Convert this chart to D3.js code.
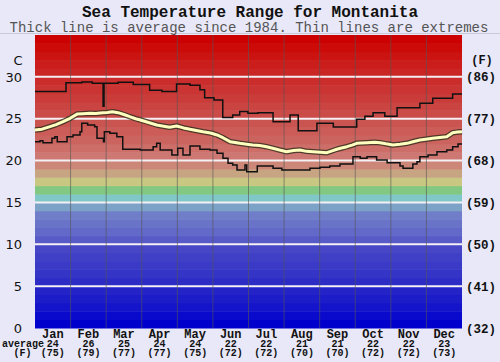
<!DOCTYPE html>
<html><head><meta charset="utf-8">
<script src="https://cdn.jsdelivr.net/npm/d3@7"></script>
<style>
html,body{margin:0;padding:0;background:#e8e8f8;}
svg{display:block;}
</style></head>
<body>
<script>
// ---- data ----
const months = ["Jan","Feb","Mar","Apr","May","Jun","Jul","Aug","Sep","Oct","Nov","Dec"];
const monthAvgC = ["24","26","25","24","24","22","22","21","21","22","22","23"];
const monthAvgF = ["(75)","(79)","(77)","(77)","(75)","(72)","(72)","(70)","(70)","(72)","(72)","(73)"];
const cTicks = [0,5,10,15,20,25,30];
const fLabels = ["(32)","(41)","(50)","(59)","(68)","(77)","(86)"];

// [day of year, °C]
const maxLine = [[0,28.25],[26.5,29.3],[40,29.4],[49,29.25],[58.2,26.5],[59,29.25],[71,29.35],[84,29.1],
 [98,28.4],[108.5,28.25],[121,29.15],[132.5,29.0],[141,28.45],[145,27.5],[153,27.25],[160.5,25.15],
 [169,25.45],[175,25.85],[182,25.65],[190.5,25.7],[203.5,24.65],[218,25.45],[225,23.55],[241,24.45],
 [255,24.0],[275,24.95],[282,25.3],[289,25.7],[299,25.3],[309.5,26.3],[329,26.85],[340,27.45],[357,27.95],[365,27.95]];

const avgLine = [[0,23.65],[6,23.75],[12.8,24.05],[18,24.3],[24,24.65],[30,25.05],[36,25.55],[41,25.6],[47,25.65],
 [52,25.62],[58,25.72],[62,25.75],[66,25.84],[71,25.72],[76,25.5],[81,25.24],[86,25.0],[90,24.85],[97,24.55],
 [104,24.25],[110,24.1],[115,23.98],[121,24.13],[127,23.9],[132.5,23.74],[138,23.6],[143.6,23.45],[150,23.3],
 [155.6,23.06],[161,22.7],[166.7,22.26],[171,22.15],[175,22.06],[181,21.95],[186,21.86],[192,21.8],[198,21.66],
 [204,21.45],[209,21.26],[215,21.06],[221,21.2],[226.5,21.26],[232,21.1],[237.6,21.06],[244,21.0],[249.6,20.94],
 [254,21.15],[258,21.35],[262,21.5],[266.7,21.66],[271,21.85],[275,22.06],[279,22.1],[283.8,22.14],[290,22.2],
 [295,22.14],[300,22.0],[306,21.86],[312,21.95],[318,22.06],[323,22.25],[329,22.46],[334,22.55],[340,22.66],
 [346,22.75],[352,22.85],[357,23.33],[361,23.4],[365,23.45]];

const minLine = [[0,22.26],[4.3,22.38],[6.8,22.14],[14.5,22.66],[17,22.85],[19,22.26],[27.4,22.85],[32.5,23.06],
 [38.5,23.45],[40,24.45],[45,24.25],[51,24.05],[53,22.66],[58.5,22.26],[59.3,23.45],[64,23.26],[70,22.85],
 [75,21.35],[90,21.26],[101,21.66],[104,22.06],[107,21.26],[115,21.26],[117,20.66],[122,21.46],[126.5,20.66],
 [132.5,21.74],[141,21.35],[149.6,21.26],[155.6,20.87],[160.7,20.27],[165,19.67],[169,19.47],[172.7,18.87],
 [179.5,19.47],[181,18.67],[190,19.35],[203.5,19.08],[211,18.87],[229,18.87],[235,19.08],[243.6,19.2],
 [252,19.35],[260.7,19.59],[271.8,20.46],[278,20.27],[283.8,20.46],[292,20.07],[301,19.75],[312,19.35],
 [314.6,19.08],[323,19.59],[326.5,19.87],[329,20.46],[336,20.67],[343.6,21.06],[352,21.26],[357,21.66],
 [361.6,21.98],[365,21.98]];

// ---- style: band colours per °C (0..35) ----
const bandColors = [
 "rgb(0,0,205)","rgb(10,10,205)","rgb(20,20,203)","rgb(28,28,200)","rgb(35,35,200)",
 "rgb(45,45,198)","rgb(52,52,198)","rgb(58,58,198)","rgb(64,64,198)","rgb(70,70,198)",
 "rgb(88,90,200)","rgb(98,105,200)","rgb(105,115,200)","rgb(112,125,200)","rgb(125,162,200)",
 "rgb(128,200,200)","rgb(130,200,130)","rgb(200,200,130)","rgb(200,165,130)","rgb(205,135,120)",
 "rgb(205,120,115)","rgb(205,110,105)","rgb(203,100,95)","rgb(203,92,88)","rgb(202,85,80)",
 "rgb(202,75,72)","rgb(202,68,65)","rgb(202,60,58)","rgb(202,52,50)","rgb(202,45,43)",
 "rgb(202,38,36)","rgb(203,30,28)","rgb(203,20,18)","rgb(204,10,8)","rgb(204,0,0)"];

const W=500,H=362;
const L=35,R=462,T=35,B=328;
const svg=d3.select("body").append("svg").attr("width",W).attr("height",H);
svg.append("rect").attr("width",W).attr("height",H).attr("fill","#e8e8f8");
svg.append("line").attr("x1",0).attr("x2",W).attr("y1",33.5).attr("y2",33.5).attr("stroke","#c8c8d8").attr("stroke-width",1);

const x=d3.scaleLinear().domain([0,365]).range([L,R]);
const y=d3.scaleLinear().domain([0,35]).range([B,T]);
const xm=d3.scaleBand().domain(months).range([L,R]);

// bands
svg.append("g").selectAll("rect").data(bandColors).join("rect")
 .attr("x",L).attr("width",R-L)
 .attr("y",(d,i)=>y(i+1)).attr("height",(d,i)=>y(i)-y(i+1)+0.5)
 .attr("fill",d=>d);

// white grid lines
svg.append("g").selectAll("line").data(cTicks.filter(d=>d>0)).join("line")
 .attr("x1",L).attr("x2",R).attr("y1",d=>y(d)).attr("y2",d=>y(d))
 .attr("stroke","#f4f0f4").attr("stroke-width",2);

// month separators
svg.append("g").selectAll("line").data(months.slice(1)).join("line")
 .attr("x1",d=>xm(d)).attr("x2",d=>xm(d)).attr("y1",T).attr("y2",B)
 .attr("stroke","#555").attr("stroke-opacity",0.6).attr("stroke-width",1);

// lines
const step=d3.line().x(d=>x(d[0])).y(d=>y(d[1])).curve(d3.curveStepAfter);
const lin=d3.line().x(d=>x(d[0])).y(d=>y(d[1]));
svg.append("path").datum(maxLine).attr("d",step).attr("fill","none").attr("stroke","#111").attr("stroke-width",1.5);
svg.append("path").datum(minLine).attr("d",step).attr("fill","none").attr("stroke","#111").attr("stroke-width",1.5);
svg.append("path").datum(avgLine).attr("d",lin).attr("fill","none").attr("stroke","#3a3020").attr("stroke-opacity",0.85).attr("stroke-width",5.5).attr("stroke-linejoin","round");
svg.append("path").datum(avgLine).attr("d",lin).attr("fill","none").attr("stroke","#ffffc0").attr("stroke-width",3).attr("stroke-linejoin","round");

// left axis
const la=svg.append("g").attr("transform",`translate(${L},0)`)
 .call(d3.axisLeft(y).tickValues(cTicks).tickSize(0).tickPadding(13).tickFormat(d3.format("d")));
la.select(".domain").remove();
la.selectAll("text").attr("font-family","DejaVu Sans, Verdana, sans-serif").attr("font-size",13).attr("fill","#111");
svg.append("text").attr("x",18).attr("y",y(32)).attr("dy","0.35em").attr("text-anchor","middle")
 .attr("font-family","DejaVu Sans, sans-serif").attr("font-size",13).attr("fill","#111").text("C");

// right axis
const ra=svg.append("g").attr("transform",`translate(${R},0)`)
 .call(d3.axisRight(y).tickValues(cTicks).tickSize(0).tickPadding(4).tickFormat((d,i)=>fLabels[i]));
ra.select(".domain").remove();
ra.selectAll("text").attr("font-family","Liberation Mono, Courier New, monospace").attr("font-weight","bold").attr("font-size",12.5).attr("fill","#111");
svg.append("text").attr("x",482).attr("y",y(32)).attr("dy","0.35em").attr("text-anchor","middle")
 .attr("font-family","Liberation Mono, monospace").attr("font-weight","bold").attr("font-size",12).attr("fill","#111").text("(F)");

// bottom axis
const ba=svg.append("g").attr("transform",`translate(0,${B})`)
 .call(d3.axisBottom(xm).tickSize(0).tickPadding(0).tickFormat(""));
ba.select(".domain").remove();
ba.selectAll(".tick text").remove();
const ticks=ba.selectAll(".tick");
const mono="Liberation Mono, Courier New, monospace";
ticks.append("text").attr("y",10).attr("text-anchor","middle").attr("font-family",mono).attr("font-weight","bold").attr("font-size",12).attr("fill","#111").text(d=>d);
ticks.append("text").attr("y",19).attr("text-anchor","middle").attr("font-family",mono).attr("font-weight","bold").attr("font-size",10).attr("fill","#111").text((d,i)=>monthAvgC[i]);
ticks.append("text").attr("y",28).attr("text-anchor","middle").attr("font-family",mono).attr("font-weight","bold").attr("font-size",10).attr("fill","#111").text((d,i)=>monthAvgF[i]);
svg.append("text").attr("x",2).attr("y",B+19).attr("font-family",mono).attr("font-weight","bold").attr("font-size",10).attr("fill","#111").text("average");
svg.append("text").attr("x",22.5).attr("y",B+28).attr("text-anchor","middle").attr("font-family",mono).attr("font-weight","bold").attr("font-size",10).attr("fill","#111").text("(F)");

// titles
svg.append("text").attr("x",250).attr("y",17).attr("text-anchor","middle").attr("font-family",mono).attr("font-weight","bold").attr("font-size",16).attr("fill","#111").text("Sea Temperature Range for Montanita");
svg.append("text").attr("x",249).attr("y",32).attr("text-anchor","middle").attr("font-family",mono).attr("font-size",14).attr("fill","#555").text("Thick line is average since 1984. Thin lines are extremes");
</script>
</body></html>
